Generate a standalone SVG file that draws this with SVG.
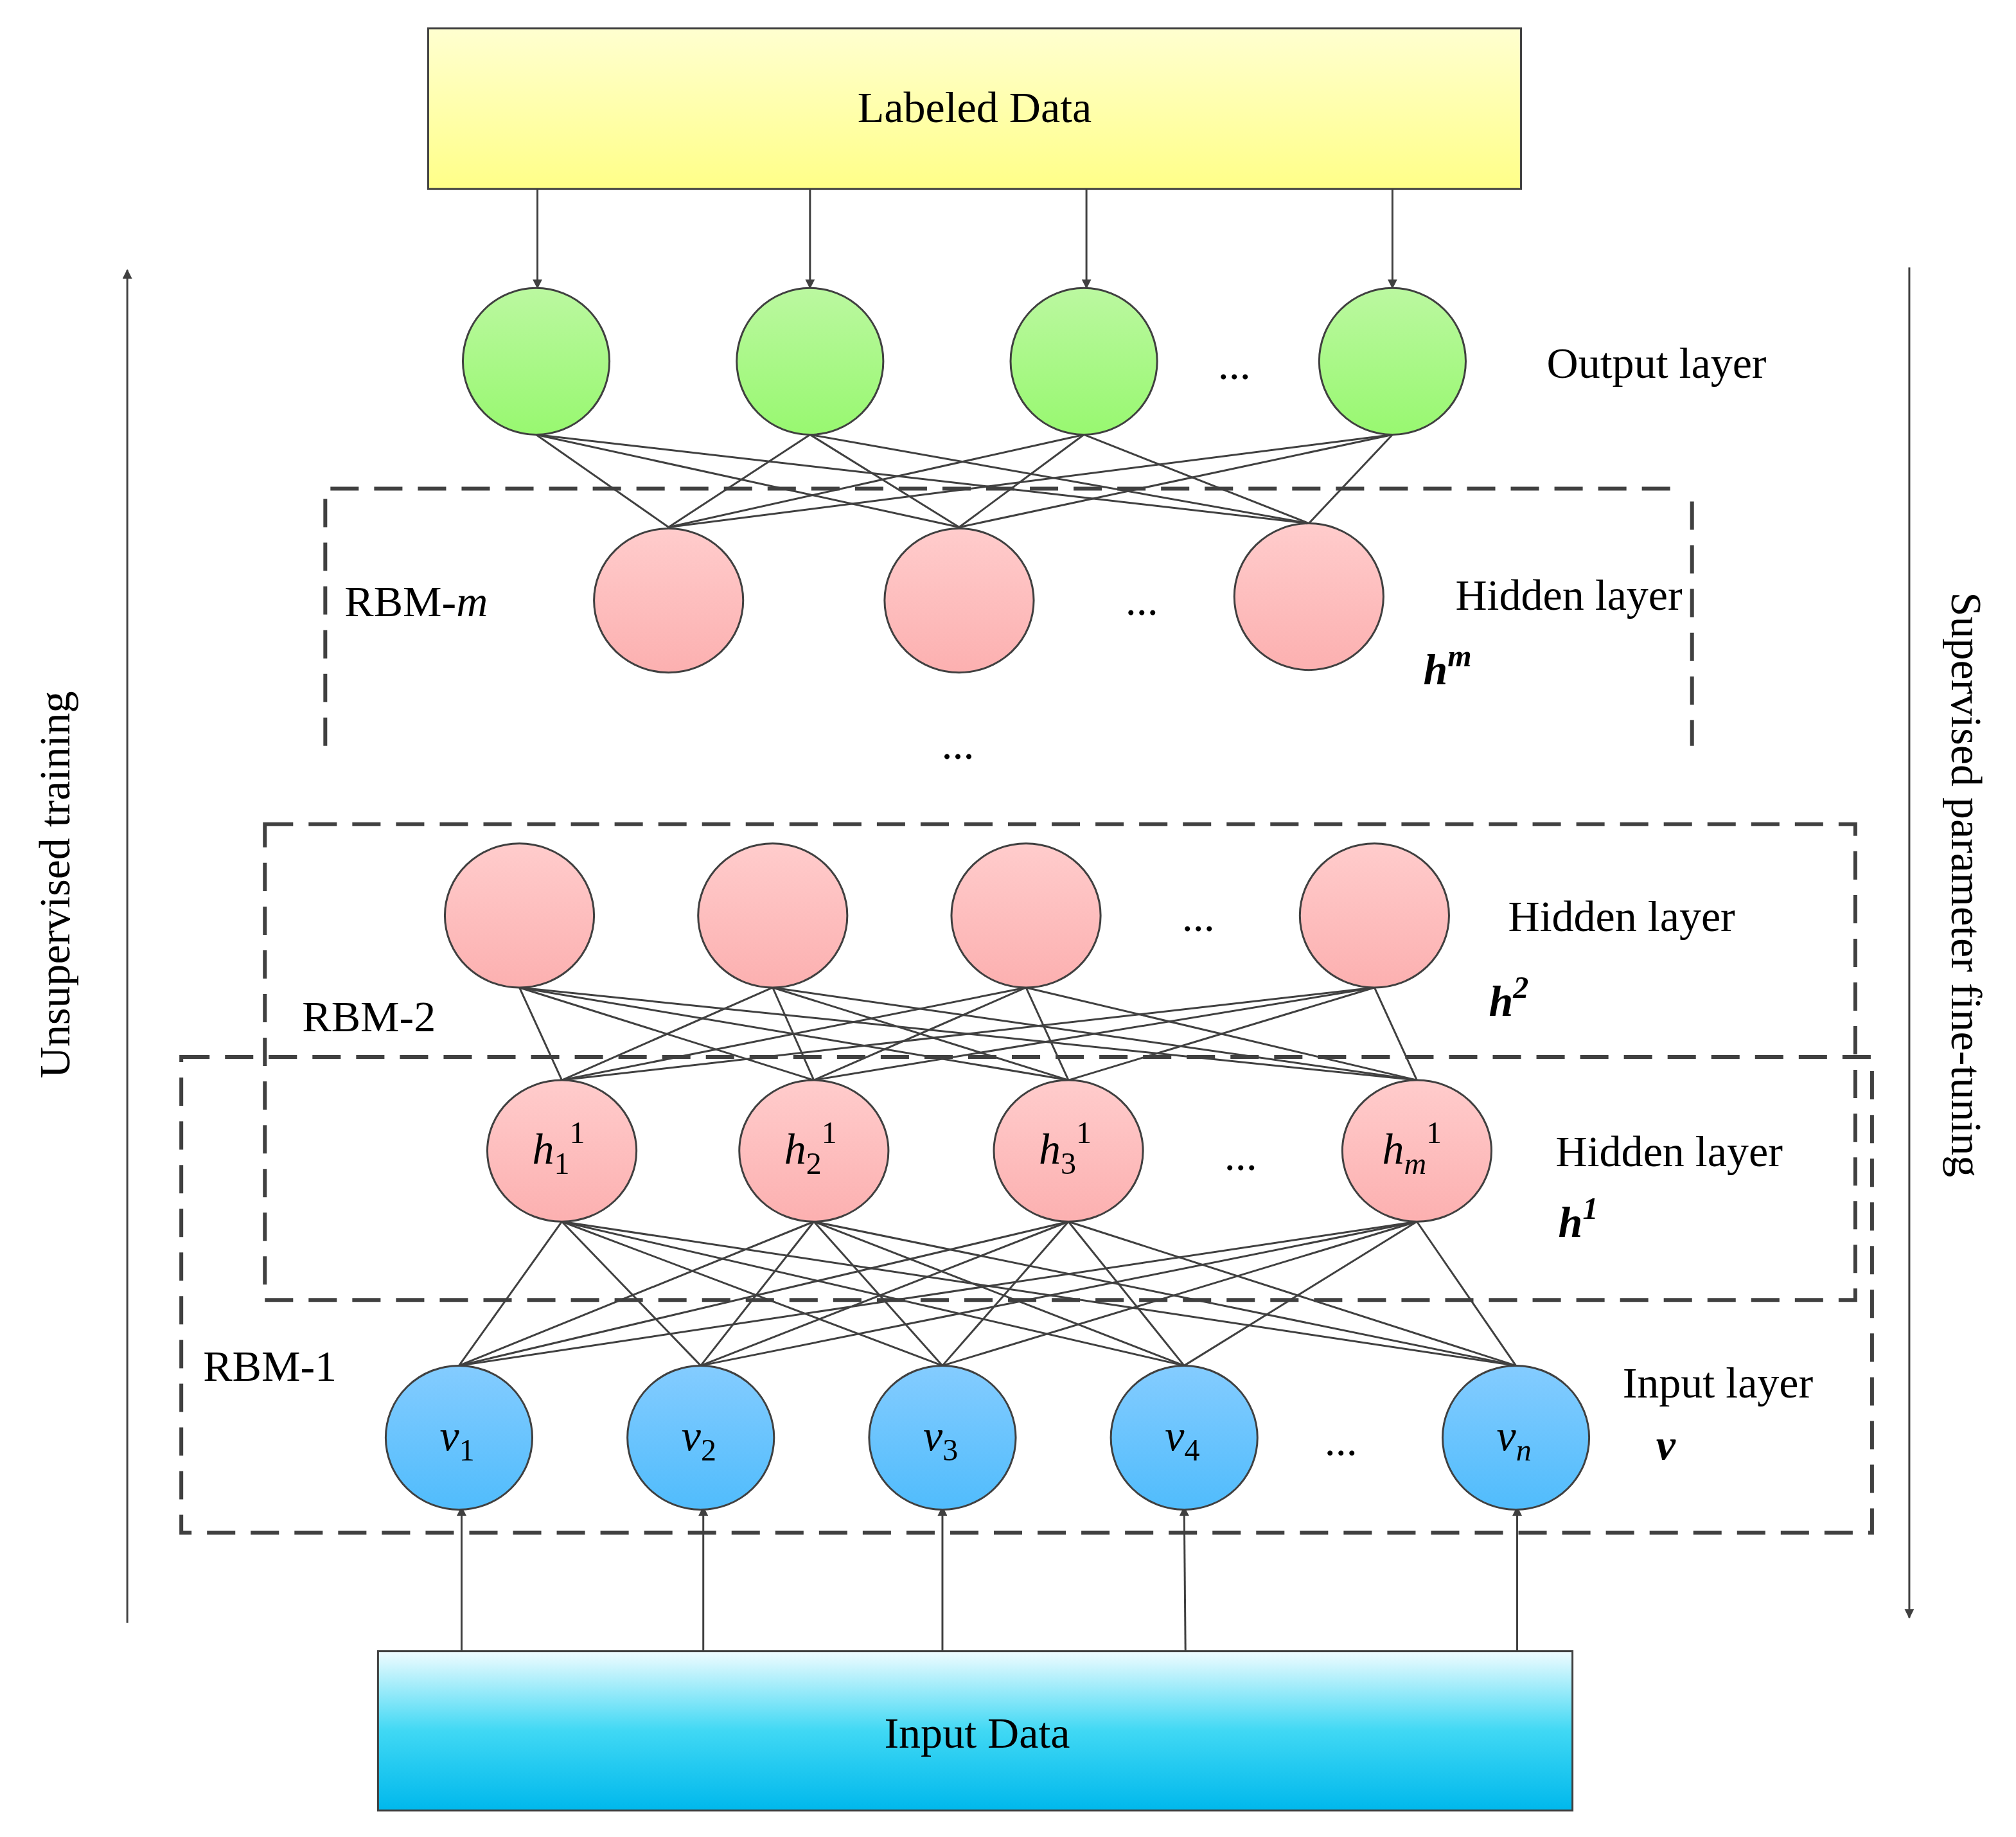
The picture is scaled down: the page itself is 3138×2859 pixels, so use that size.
<svg xmlns="http://www.w3.org/2000/svg" width="3138" height="2859" viewBox="0 0 3138 2859">
<defs>
<linearGradient id="gy" x1="0" y1="0" x2="0" y2="1"><stop offset="0" stop-color="#ffffd0"/><stop offset="1" stop-color="#ffff88"/></linearGradient>
<linearGradient id="gc" x1="0" y1="0" x2="0" y2="1"><stop offset="0" stop-color="#f0fcff"/><stop offset="0.5" stop-color="#40d8f4"/><stop offset="1" stop-color="#00b8ec"/></linearGradient>
<linearGradient id="gg" x1="0" y1="0" x2="0" y2="1"><stop offset="0" stop-color="#bbf8a0"/><stop offset="1" stop-color="#98f870"/></linearGradient>
<linearGradient id="gp" x1="0" y1="0" x2="0" y2="1"><stop offset="0" stop-color="#ffcccc"/><stop offset="1" stop-color="#fcb0b0"/></linearGradient>
<linearGradient id="gb" x1="0" y1="0" x2="0" y2="1"><stop offset="0" stop-color="#84ccff"/><stop offset="1" stop-color="#50bcfc"/></linearGradient>
<marker id="ah" viewBox="0 0 10 10" refX="9" refY="5" markerWidth="5" markerHeight="5" orient="auto" markerUnits="strokeWidth"><path d="M0,0 L10,5 L0,10 z" fill="#404040"/></marker>
</defs>
<style>
.n{stroke:#404040;stroke-width:1.5}
.t{font-family:"Liberation Serif",serif;font-size:34px;fill:#000}
.i{font-style:italic}
.b{font-weight:bold;font-style:italic}
.d{fill:none;stroke:#404040;stroke-width:3;stroke-dasharray:22,12}
.c line{stroke:#404040;stroke-width:1.5}
.a{stroke:#404040;stroke-width:3.5;marker-end:url(#ah)}
</style>
<rect width="3138" height="2859" fill="#fff"/>
<g transform="scale(2.0013)">
<g id="boxes">
<path class="d" d="M253,580 V380 H1305 M1316,390 V580"/>
<rect class="d" x="206" y="641" width="1237" height="370"/>
<rect class="d" x="141" y="822" width="1315" height="370"/>
</g>
<g class="c" id="connectors">
<line x1="417" y1="338" x2="520" y2="410"/><line x1="417" y1="338" x2="746" y2="410"/><line x1="417" y1="338" x2="1018" y2="407"/>
<line x1="630" y1="338" x2="520" y2="410"/><line x1="630" y1="338" x2="746" y2="410"/><line x1="630" y1="338" x2="1018" y2="407"/>
<line x1="843" y1="338" x2="520" y2="410"/><line x1="843" y1="338" x2="746" y2="410"/><line x1="843" y1="338" x2="1018" y2="407"/>
<line x1="1083" y1="338" x2="520" y2="410"/><line x1="1083" y1="338" x2="746" y2="410"/><line x1="1083" y1="338" x2="1018" y2="407"/>
<line x1="404" y1="768" x2="437" y2="840"/><line x1="404" y1="768" x2="633" y2="840"/><line x1="404" y1="768" x2="831" y2="840"/><line x1="404" y1="768" x2="1102" y2="840"/>
<line x1="601" y1="768" x2="437" y2="840"/><line x1="601" y1="768" x2="633" y2="840"/><line x1="601" y1="768" x2="831" y2="840"/><line x1="601" y1="768" x2="1102" y2="840"/>
<line x1="798" y1="768" x2="437" y2="840"/><line x1="798" y1="768" x2="633" y2="840"/><line x1="798" y1="768" x2="831" y2="840"/><line x1="798" y1="768" x2="1102" y2="840"/>
<line x1="1069" y1="768" x2="437" y2="840"/><line x1="1069" y1="768" x2="633" y2="840"/><line x1="1069" y1="768" x2="831" y2="840"/><line x1="1069" y1="768" x2="1102" y2="840"/>
<line x1="437" y1="950" x2="357" y2="1062"/><line x1="437" y1="950" x2="545" y2="1062"/><line x1="437" y1="950" x2="733" y2="1062"/><line x1="437" y1="950" x2="921" y2="1062"/><line x1="437" y1="950" x2="1179" y2="1062"/>
<line x1="633" y1="950" x2="357" y2="1062"/><line x1="633" y1="950" x2="545" y2="1062"/><line x1="633" y1="950" x2="733" y2="1062"/><line x1="633" y1="950" x2="921" y2="1062"/><line x1="633" y1="950" x2="1179" y2="1062"/>
<line x1="831" y1="950" x2="357" y2="1062"/><line x1="831" y1="950" x2="545" y2="1062"/><line x1="831" y1="950" x2="733" y2="1062"/><line x1="831" y1="950" x2="921" y2="1062"/><line x1="831" y1="950" x2="1179" y2="1062"/>
<line x1="1102" y1="950" x2="357" y2="1062"/><line x1="1102" y1="950" x2="545" y2="1062"/><line x1="1102" y1="950" x2="733" y2="1062"/><line x1="1102" y1="950" x2="921" y2="1062"/><line x1="1102" y1="950" x2="1179" y2="1062"/>
<line class="a" x1="418" y1="147" x2="418" y2="224"/><line class="a" x1="630" y1="147" x2="630" y2="224"/><line class="a" x1="845" y1="147" x2="845" y2="224"/><line class="a" x1="1083" y1="147" x2="1083" y2="224"/>
<line class="a" x1="359" y1="1284" x2="359" y2="1172"/><line class="a" x1="547" y1="1284" x2="547" y2="1172"/><line class="a" x1="733" y1="1284" x2="733" y2="1172"/><line class="a" x1="922" y1="1284" x2="921" y2="1172"/><line class="a" x1="1180" y1="1284" x2="1180" y2="1172"/>
<line class="a" x1="99" y1="1262" x2="99" y2="210"/><line class="a" x1="1485" y1="208" x2="1485" y2="1258"/>
</g>
<g id="labeled"><rect class="n" x="333" y="22" width="850" height="125" fill="url(#gy)"/><text class="t" x="758" y="95" text-anchor="middle">Labeled Data</text></g>
<g id="input"><rect class="n" x="294" y="1284" width="929" height="124" fill="url(#gc)"/><text class="t" x="760" y="1359" text-anchor="middle">Input Data</text></g>
<g id="output">
<ellipse class="n" cx="417" cy="281" rx="57" ry="57" fill="url(#gg)"/><ellipse class="n" cx="630" cy="281" rx="57" ry="57" fill="url(#gg)"/><ellipse class="n" cx="843" cy="281" rx="57" ry="57" fill="url(#gg)"/><ellipse class="n" cx="1083" cy="281" rx="57" ry="57" fill="url(#gg)"/>
<text class="t" x="960" y="295" text-anchor="middle">...</text><text class="t" x="1203" y="294">Output layer</text>
</g>
<g id="hiddenm">
<ellipse class="n" cx="520" cy="467" rx="58" ry="56" fill="url(#gp)"/><ellipse class="n" cx="746" cy="467" rx="58" ry="56" fill="url(#gp)"/><ellipse class="n" cx="1018" cy="464" rx="58" ry="57" fill="url(#gp)"/>
<text class="t" x="888" y="478" text-anchor="middle">...</text><text class="t" x="1132" y="474">Hidden layer</text>
<text class="t b" x="1107" y="532">h<tspan font-size="24" dy="-14">m</tspan></text>
<text class="t" x="268" y="479">RBM-<tspan class="i">m</tspan></text>
<text class="t" x="745" y="590" text-anchor="middle">...</text>
</g>
<g id="hidden2">
<ellipse class="n" cx="404" cy="712" rx="58" ry="56" fill="url(#gp)"/><ellipse class="n" cx="601" cy="712" rx="58" ry="56" fill="url(#gp)"/><ellipse class="n" cx="798" cy="712" rx="58" ry="56" fill="url(#gp)"/><ellipse class="n" cx="1069" cy="712" rx="58" ry="56" fill="url(#gp)"/>
<text class="t" x="932" y="724" text-anchor="middle">...</text><text class="t" x="1173" y="724">Hidden layer</text>
<text class="t b" x="1158" y="790">h<tspan font-size="24" dy="-14">2</tspan></text>
<text class="t" x="235" y="802">RBM-2</text>
</g>
<g id="hidden1">
<ellipse class="n" cx="437" cy="895" rx="58" ry="55" fill="url(#gp)"/><ellipse class="n" cx="633" cy="895" rx="58" ry="55" fill="url(#gp)"/><ellipse class="n" cx="831" cy="895" rx="58" ry="55" fill="url(#gp)"/><ellipse class="n" cx="1102" cy="895" rx="58" ry="55" fill="url(#gp)"/>
<text class="t" x="414" y="905"><tspan class="i">h</tspan><tspan font-size="24" dy="8">1</tspan><tspan font-size="24" dy="-24">1</tspan></text>
<text class="t" x="610" y="905"><tspan class="i">h</tspan><tspan font-size="24" dy="8">2</tspan><tspan font-size="24" dy="-24">1</tspan></text>
<text class="t" x="808" y="905"><tspan class="i">h</tspan><tspan font-size="24" dy="8">3</tspan><tspan font-size="24" dy="-24">1</tspan></text>
<text class="t" x="1075" y="905"><tspan class="i">h</tspan><tspan class="i" font-size="24" dy="8">m</tspan><tspan font-size="24" dy="-24">1</tspan></text>
<text class="t" x="965" y="910" text-anchor="middle">...</text><text class="t" x="1210" y="907">Hidden layer</text>
<text class="t b" x="1212" y="962">h<tspan font-size="24" dy="-14">1</tspan></text>
<text class="t" x="158" y="1074">RBM-1</text>
</g>
<g id="visible">
<ellipse class="n" cx="357" cy="1118" rx="57" ry="56" fill="url(#gb)"/><ellipse class="n" cx="545" cy="1118" rx="57" ry="56" fill="url(#gb)"/><ellipse class="n" cx="733" cy="1118" rx="57" ry="56" fill="url(#gb)"/><ellipse class="n" cx="921" cy="1118" rx="57" ry="56" fill="url(#gb)"/><ellipse class="n" cx="1179" cy="1118" rx="57" ry="56" fill="url(#gb)"/>
<text class="t" x="342" y="1128"><tspan class="i">v</tspan><tspan font-size="24" dy="8">1</tspan></text>
<text class="t" x="530" y="1128"><tspan class="i">v</tspan><tspan font-size="24" dy="8">2</tspan></text>
<text class="t" x="718" y="1128"><tspan class="i">v</tspan><tspan font-size="24" dy="8">3</tspan></text>
<text class="t" x="906" y="1128"><tspan class="i">v</tspan><tspan font-size="24" dy="8">4</tspan></text>
<text class="t" x="1164" y="1128"><tspan class="i">v</tspan><tspan class="i" font-size="24" dy="8">n</tspan></text>
<text class="t" x="1043" y="1132" text-anchor="middle">...</text><text class="t" x="1262" y="1087">Input layer</text>
<text class="t b" x="1288" y="1135">v</text>
</g>
<g id="side">
<text class="t" transform="translate(54,688) rotate(-90)" text-anchor="middle">Unsupervised training</text>
<text class="t" transform="translate(1518,688) rotate(90)" text-anchor="middle">Supervised parameter fine-tuning</text>
</g>
</g>
</svg>
